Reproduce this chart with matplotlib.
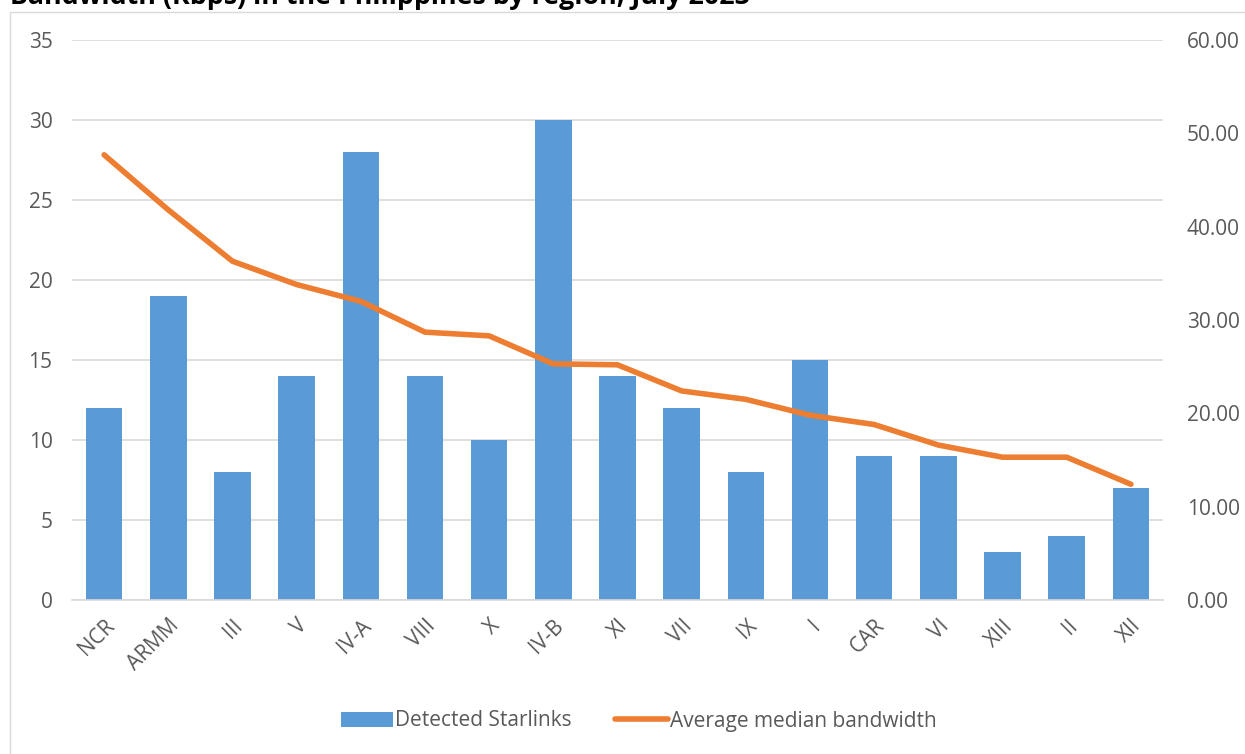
import numpy as np
import matplotlib.pyplot as plt
from matplotlib.patches import Rectangle
from matplotlib.ticker import FormatStrFormatter

plt.rcParams['font.family'] = ['Open Sans', 'DejaVu Sans']

regions = ['NCR', 'ARMM', 'III', 'V', 'IV-A', 'VIII', 'X', 'IV-B', 'XI', 'VII',
           'IX', 'I', 'CAR', 'VI', 'XIII', 'II', 'XII']
starlinks = [12, 19, 8, 14, 28, 14, 10, 30, 14, 12, 8, 15, 9, 9, 3, 4, 7]
bandwidth = [47.7, 41.8, 36.3, 33.8, 32.0, 28.7, 28.3, 25.3, 25.2, 22.4,
             21.5, 19.8, 18.8, 16.6, 15.3, 15.3, 12.4]

blue = '#5b9bd5'
orange = '#ed7d31'
grey = '#595959'
gridc = '#d9d9d9'
fs = 15

fig = plt.figure(figsize=(12.45, 7.54), dpi=100)
fig.patches.append(Rectangle((10/1245, -0.1), 1.2, 1 - 12/754 + 0.1, transform=fig.transFigure,
                             fill=False, edgecolor=gridc, linewidth=1))
fig.text(10/1245, 1 - 4/754, 'Bandwidth (Kbps) in the Philippines by region, July 2023',
         fontsize=19.3, fontweight='bold', va='baseline', ha='left', color='black')

ax = fig.add_axes([72/1245, 1 - 600/754, (1163-72)/1245, (600-40)/754])
x = np.arange(len(regions))
ax.bar(x, starlinks, width=0.57, color=blue, label='Detected Starlinks', zorder=2)
ax.set_ylim(0, 35)
ax.set_yticks(range(0, 36, 5))
ax.set_xlim(-0.5, len(regions) - 0.5)
ax.grid(axis='y', color=gridc, linewidth=1.2, zorder=0)
ax.set_axisbelow(True)
for s in ['top', 'right', 'left']:
    ax.spines[s].set_visible(False)
ax.spines['bottom'].set_color(gridc)
ax.spines['bottom'].set_linewidth(1.2)
ax.tick_params(axis='both', length=0, colors=grey, labelsize=fs)
ax.tick_params(axis='y', pad=14)
ax.set_xticks(x)
ax.set_xticklabels(regions, rotation=45, ha='right', rotation_mode='anchor')
ax.tick_params(axis='x', pad=11)

ax2 = ax.twinx()
ax2.plot(x, bandwidth, color=orange, linewidth=4, solid_capstyle='round',
         label='Average median bandwidth', zorder=3)
ax2.set_ylim(0, 60)
ax2.set_yticks(range(0, 61, 10))
ax2.yaxis.set_major_formatter(FormatStrFormatter('%.2f'))
for s in ['top', 'right', 'left', 'bottom']:
    ax2.spines[s].set_visible(False)
ax2.tick_params(axis='y', length=0, colors=grey, labelsize=fs, pad=17)

h1, l1 = ax.get_legend_handles_labels()
h2, l2 = ax2.get_legend_handles_labels()
leg = fig.legend(h1 + h2, l1 + l2, loc='center', bbox_to_anchor=(0.513, 1 - 721/754),
                 ncol=2, frameon=False, fontsize=fs, handlelength=2.5,
                 handletextpad=0.1, columnspacing=2.1)
for t in leg.get_texts():
    t.set_color(grey)

fig.savefig('out.png', dpi=100)
